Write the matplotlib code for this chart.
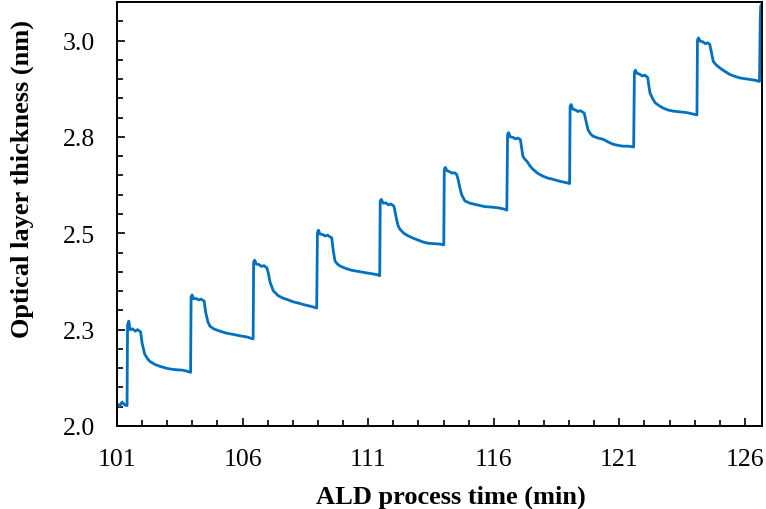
import matplotlib
matplotlib.use("Agg")
import matplotlib.pyplot as plt
from matplotlib.ticker import MultipleLocator, FixedLocator

# ---- data (time in min, thickness in nm) ----
time_min = [
    101.00, 101.10, 101.20, 101.30, 101.40,
    101.42, 101.47, 101.52, 101.62, 101.72, 101.82, 101.94,
    102.00, 102.10, 102.20, 102.30, 102.50, 102.70, 102.90, 103.10, 103.35, 103.60, 103.80, 103.93,
    103.95, 103.99, 104.05, 104.15, 104.25, 104.35, 104.47,
    104.53, 104.62, 104.70, 104.85, 105.10, 105.35, 105.60, 105.90, 106.17, 106.42,
    106.44, 106.48, 106.55, 106.65, 106.75, 106.85, 106.97,
    107.03, 107.09, 107.22, 107.42, 107.60, 107.82, 108.02, 108.22, 108.42, 108.62, 108.80, 108.95,
    108.98, 109.02, 109.08, 109.18, 109.28, 109.38, 109.50,
    109.55, 109.61, 109.68, 109.78, 109.88, 110.10, 110.34, 110.60, 110.87, 111.15, 111.40, 111.46,
    111.48, 111.52, 111.60, 111.70, 111.80, 111.90, 112.02,
    112.06, 112.13, 112.20, 112.27, 112.42, 112.60, 112.80, 113.00, 113.20, 113.40, 113.65, 113.85, 114.01,
    114.03, 114.07, 114.14, 114.24, 114.34, 114.44, 114.52,
    114.58, 114.65, 114.72, 114.85, 115.05, 115.25, 115.45, 115.65, 115.90, 116.18, 116.40, 116.52,
    116.55, 116.59, 116.66, 116.76, 116.86, 116.96, 117.06,
    117.10, 117.16, 117.24, 117.32, 117.44, 117.56, 117.76, 117.96, 118.16, 118.36, 118.62, 118.91, 119.02,
    119.04, 119.08, 119.15, 119.25, 119.35, 119.45, 119.60,
    119.66, 119.75, 119.85, 119.95, 120.15, 120.35, 120.55, 120.75, 120.95, 121.14, 121.35, 121.57,
    121.60, 121.64, 121.70, 121.80, 121.92, 122.02, 122.13,
    122.17, 122.22, 122.32, 122.42, 122.58, 122.74, 122.93, 123.13, 123.40, 123.69, 123.90, 124.09,
    124.11, 124.15, 124.22, 124.32, 124.42, 124.52, 124.60,
    124.67, 124.74, 124.85, 125.00, 125.20, 125.40, 125.60, 125.80, 126.00, 126.19, 126.40, 126.58,
    126.61, 126.63, 126.68,
]
thickness_nm = [
    2.058, 2.052, 2.062, 2.055, 2.053,
    2.262, 2.272, 2.250, 2.252, 2.246, 2.250, 2.244,
    2.215, 2.187, 2.176, 2.168, 2.160, 2.155, 2.151, 2.148, 2.146, 2.145, 2.142, 2.139,
    2.335, 2.340, 2.330, 2.331, 2.327, 2.329, 2.324,
    2.295, 2.270, 2.259, 2.252, 2.246, 2.241, 2.238, 2.234, 2.231, 2.226,
    2.425, 2.430, 2.420, 2.419, 2.414, 2.416, 2.410,
    2.395, 2.374, 2.351, 2.338, 2.332, 2.327, 2.322, 2.319, 2.315, 2.312, 2.309, 2.306,
    2.502, 2.508, 2.498, 2.497, 2.493, 2.495, 2.490,
    2.488, 2.455, 2.428, 2.420, 2.415, 2.409, 2.404, 2.401, 2.398, 2.395, 2.392, 2.390,
    2.583, 2.588, 2.578, 2.579, 2.574, 2.576, 2.571,
    2.560, 2.536, 2.518, 2.510, 2.500, 2.493, 2.487, 2.482, 2.477, 2.474, 2.473, 2.472, 2.470,
    2.665, 2.671, 2.662, 2.660, 2.656, 2.657, 2.653,
    2.640, 2.618, 2.600, 2.584, 2.578, 2.575, 2.572, 2.569, 2.568, 2.566, 2.563, 2.560,
    2.756, 2.761, 2.750, 2.749, 2.745, 2.747, 2.743,
    2.725, 2.700, 2.692, 2.687, 2.675, 2.666, 2.655, 2.648, 2.643, 2.640, 2.635, 2.631, 2.629,
    2.828, 2.834, 2.822, 2.820, 2.816, 2.818, 2.812,
    2.795, 2.769, 2.758, 2.752, 2.747, 2.744, 2.737, 2.731, 2.728, 2.726, 2.726, 2.724,
    2.918, 2.923, 2.915, 2.913, 2.908, 2.910, 2.904,
    2.885, 2.864, 2.850, 2.839, 2.831, 2.825, 2.820, 2.817, 2.815, 2.813, 2.810, 2.807,
    3.001, 3.007, 2.998, 2.997, 2.992, 2.994, 2.990,
    2.968, 2.946, 2.937, 2.929, 2.920, 2.912, 2.907, 2.903, 2.901, 2.899, 2.897, 2.894,
    3.050, 3.090, 3.095,
]

x_ticks = [101, 106, 111, 116, 121, 126]
x_tick_labels = ["101", "106", "111", "116", "121", "126"]
y_ticks = [2.0, 2.25, 2.5, 2.75, 3.0]
y_tick_labels = ["2.0", "2.3", "2.5", "2.8", "3.0"]

plt.rcParams["font.family"] = ["Liberation Serif", "DejaVu Serif"]

W, H = 766, 510
fig = plt.figure(figsize=(W / 100, H / 100), dpi=100)
ax = fig.add_axes([117 / W, 1 - 427 / H, (762 - 117) / W, (427 - 3) / H])

ax.plot(time_min, thickness_nm, color="#0070C0", lw=2.0, solid_joinstyle="round")

ax.set_xlim(101, 126.68)
ax.set_ylim(2.0, 3.1)

ax.xaxis.set_major_locator(FixedLocator(x_ticks))
ax.set_xticklabels(x_tick_labels)
ax.xaxis.set_minor_locator(MultipleLocator(1))
ax.yaxis.set_major_locator(FixedLocator(y_ticks))
ax.set_yticklabels(y_tick_labels)
ax.yaxis.set_minor_locator(MultipleLocator(0.05))

ax.tick_params(which="both", direction="in", color="black", width=1.2,
               top=False, right=False)
ax.tick_params(which="major", length=5.5, labelsize=18.5, colors="black")
ax.tick_params(axis="x", which="major", pad=16)
ax.tick_params(axis="y", which="major", pad=16)
ax.tick_params(which="minor", length=4)

for sp in ax.spines.values():
    sp.set_linewidth(1.4)
    sp.set_color("black")

fig.text(451 / W, 1 - 497 / H, "ALD process time (min)", ha="center", va="center",
         fontsize=19, fontweight="bold")
fig.text(22 / W, 1 - 179 / H, "Optical layer thickness (nm)", ha="center", va="center",
         rotation=90, fontsize=19, fontweight="bold")

fig.savefig("out.png", dpi=100)
